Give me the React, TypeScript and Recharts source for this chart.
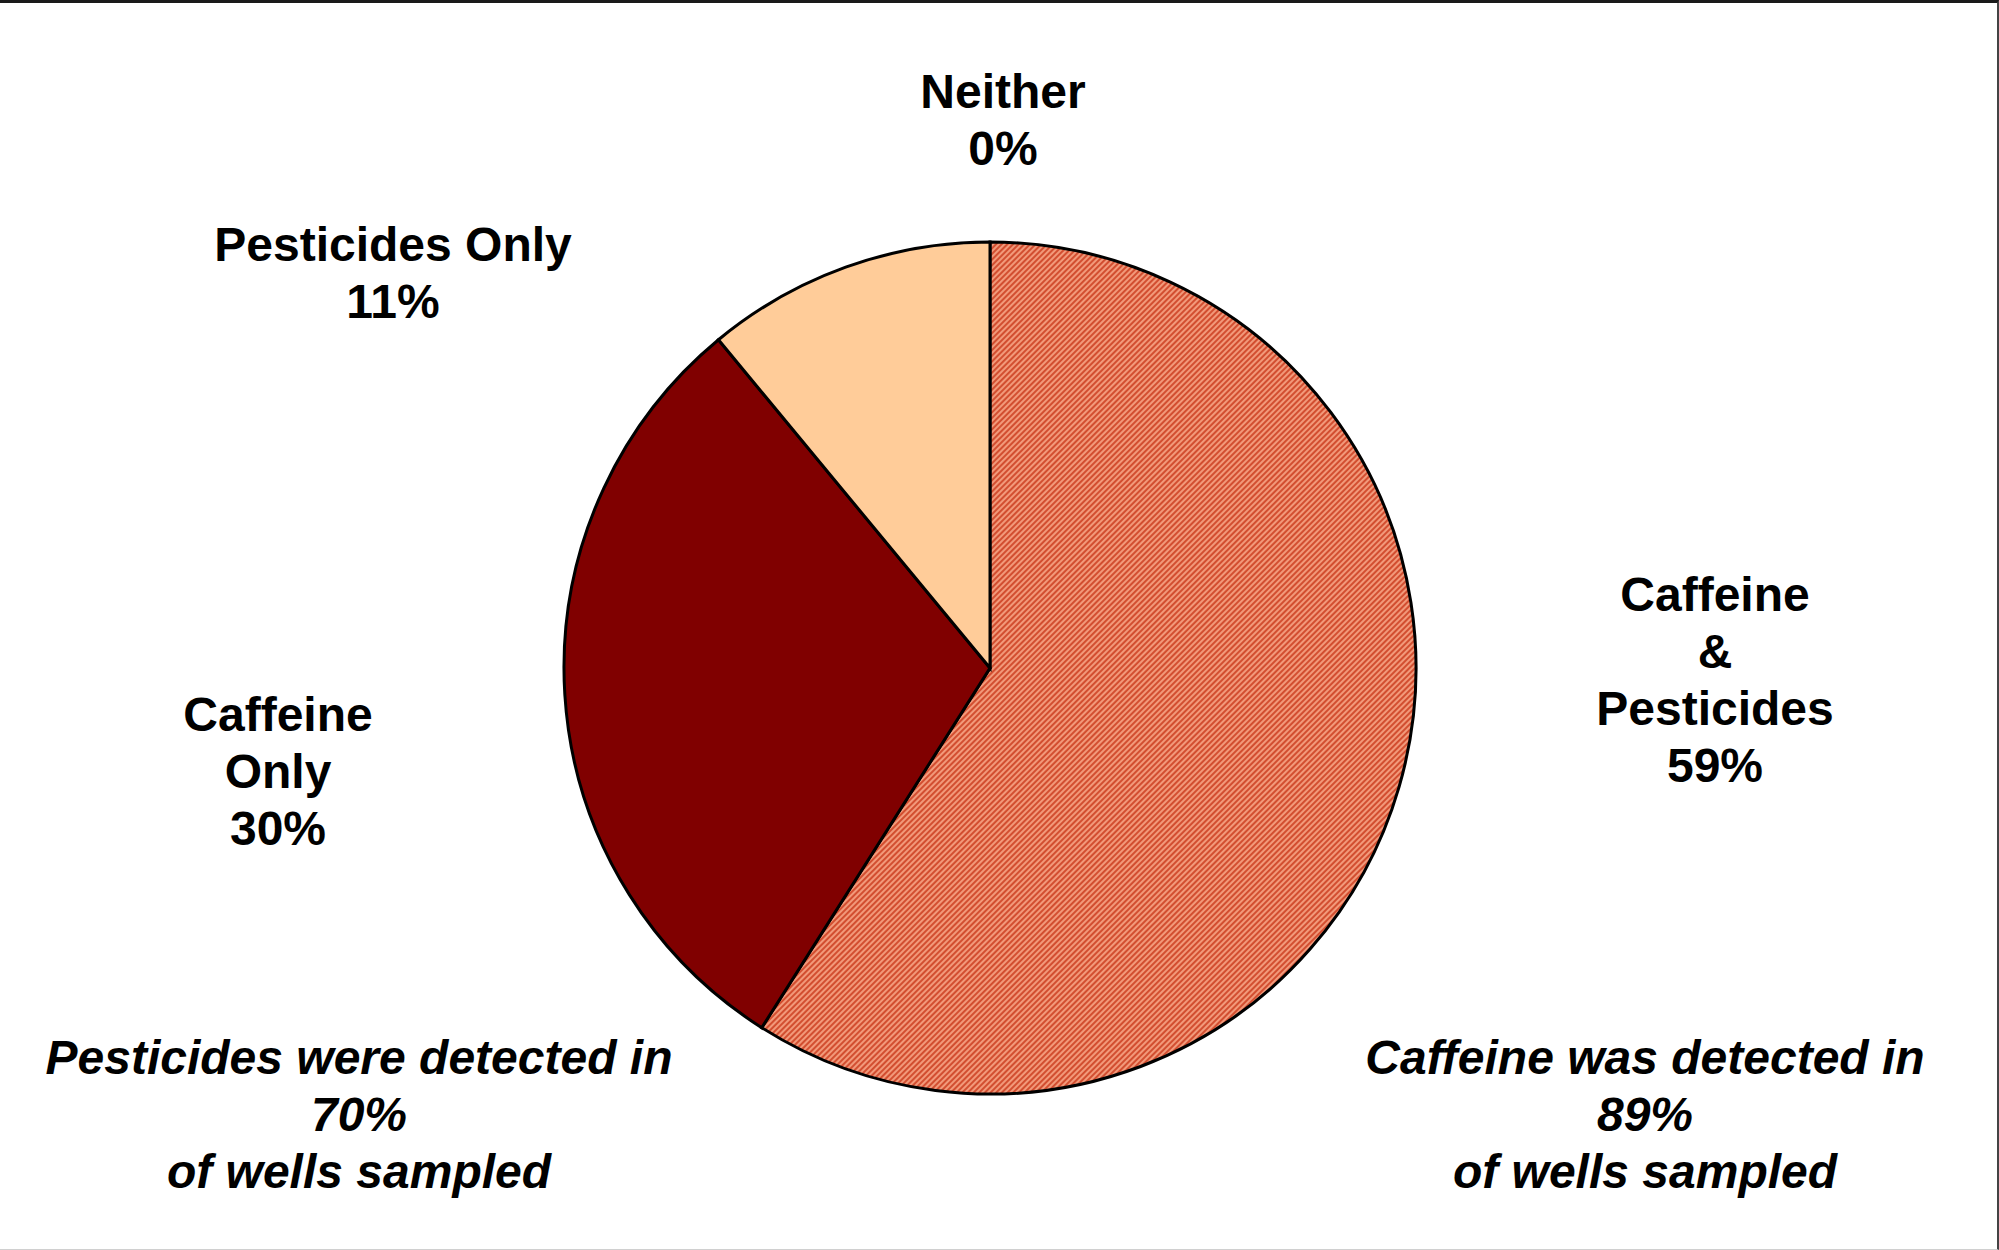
import { PieChart, Pie, Cell } from "recharts"

// detection groups of sampled wells, clockwise from 12 o'clock
const categories = ["Caffeine & Pesticides", "Caffeine Only", "Pesticides Only", "Neither"]
const percents = [59, 30, 11, 0]
const labelLines = [["Caffeine", "&", "Pesticides"], ["Caffeine", "Only"], ["Pesticides Only"], ["Neither"]]

// summary notes under the pie
const noteHeads = ["Pesticides were detected in", "Caffeine was detected in"]
const notePercents = [70, 89]

const W = 1999
const H = 1250
const CX = 985
const CY = 663
const R = 426
const FONT = "'Liberation Sans', Arial, sans-serif"
const FS = 48
const LINE = 57

const fills = ["url(#caffPest)", "#800000", "#ffcc99", "#ffffff"]
// first-baseline offset of each slice label from the pie centre
const labelOffsets = [
  [725, -57],
  [-712, 63],
  [-597, -407],
  [13, -560],
]
const noteCenters = [359, 1645]
const noteTop = 1074

const chartData = categories.map((name, i) => ({ name, value: percents[i] }))

function SliceLabel(props: any) {
  const { cx, cy, index, value } = props
  const [dx, dy] = labelOffsets[index]
  const lines = [...labelLines[index], `${value}%`]
  return (
    <text
      x={cx + dx}
      y={cy + dy}
      textAnchor="middle"
      fontFamily={FONT}
      fontWeight="bold"
      fontSize={FS}
      fill="#000"
    >
      {lines.map((l, i) => (
        <tspan key={i} x={cx + dx} dy={i === 0 ? 0 : LINE}>
          {l}
        </tspan>
      ))}
    </text>
  )
}

export default function App() {
  return (
    <div
      style={{
        position: "absolute",
        left: 0,
        top: 0,
        width: W,
        height: H,
        background: "#fff",
        boxSizing: "border-box",
        borderTop: "3px solid #1a1a1a",
        borderRight: "2px solid #444",
        borderBottom: "1px solid #d0d0d0",
      }}
    >
      <div style={{ position: "absolute", left: 0, top: -3 }}>
        <PieChart width={W} height={H}>
          <defs>
            <pattern
              id="caffPest"
              width="4"
              height="4"
              patternUnits="userSpaceOnUse"
              patternTransform="rotate(45)"
            >
              <rect width="4" height="4" fill="#f2997a" />
              <rect width="2" height="4" fill="#d24e30" />
            </pattern>
          </defs>
          <Pie
            data={chartData}
            dataKey="value"
            nameKey="name"
            cx={CX}
            cy={CY}
            outerRadius={R}
            startAngle={90}
            endAngle={-270}
            stroke="#000"
            strokeWidth={3}
            label={SliceLabel}
            labelLine={false}
            isAnimationActive={false}
          >
            {chartData.map((d, i) => (
              <Cell key={d.name} fill={fills[i]} />
            ))}
          </Pie>
        </PieChart>
      </div>
      <svg
        width={W}
        height={H}
        style={{ position: "absolute", left: 0, top: -3, pointerEvents: "none" }}
      >
        {noteHeads.map((head, i) => (
          <text
            key={head}
            x={noteCenters[i]}
            y={noteTop}
            textAnchor="middle"
            fontFamily={FONT}
            fontWeight="bold"
            fontStyle="italic"
            fontSize={FS}
            fill="#000"
          >
            <tspan x={noteCenters[i]} dy={0}>{head}</tspan>
            <tspan x={noteCenters[i]} dy={LINE}>{`${notePercents[i]}%`}</tspan>
            <tspan x={noteCenters[i]} dy={LINE}>of wells sampled</tspan>
          </text>
        ))}
      </svg>
    </div>
  )
}
